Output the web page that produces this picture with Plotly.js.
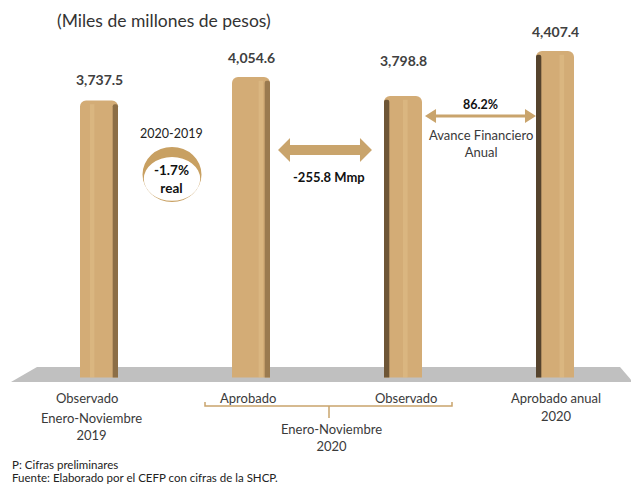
<!DOCTYPE html>
<html>
<head>
<meta charset="utf-8">
<script src="https://cdn.plot.ly/plotly-3.0.1.min.js"></script>
<style>
  html, body { margin: 0; padding: 0; background: #fff; }
  #chart { width: 631px; height: 485px; }
</style>
</head>
<body>
<div id="chart"></div>
<script>
// gasto, miles de millones de pesos
const categorias = ["Observado", "Aprobado", "Observado", "Aprobado anual"];
const valores = [3737.5, 4054.6, 3798.8, 4407.4];
const subtitulos = ["Enero-Noviembre<br>2019", "", "", "2020"];
const variacionReal = "-1.7%";
const diferencia = "-255.8 Mmp";
const avance = "86.2%";

const W = 631, H = 485;
// pixel -> paper helpers for the decorations
const px = x => x / W;
const py = y => 1 - y / H;
const path = pts => pts.map((p, i) => (i ? "L" : "M") + px(p[0]).toFixed(4) + "," + py(p[1]).toFixed(4)).join(" ") + " Z";

const tan = "#D3AC76";
const arrowTan = "#C9A46C";
const xs = categorias.map((c, i) => i);

const barW = 0.25, edgeW = 0.035;
const shadowColors = ["#8C6E46", "#9A7A4F", "#6E5636", "#55432D"];
const shadowOffsets = [barW / 2 - edgeW, barW / 2 - edgeW, -barW / 2, -barW / 2];

const data = [
  {
    x: xs, y: valores, type: "bar", width: barW,
    marker: { color: tan, cornerradius: 6 },
    hoverinfo: "skip"
  },
  {
    x: xs, y: valores.map(v => v - 50), type: "bar",
    width: edgeW, offset: shadowOffsets,
    marker: { color: shadowColors, cornerradius: 3 },
    hoverinfo: "skip"
  },
  {
    x: xs, y: valores.map(v => v - 50), type: "bar",
    width: 0.03, offset: [-0.06, 0.05, 0.0, 0.03],
    marker: { color: "rgba(232,200,150,0.35)" },
    hoverinfo: "skip"
  }
];

const font = "Lato, 'DejaVu Sans', sans-serif";
const txt = "#3a3a3a";

const annotations = [];
// value labels above bars
const lift = [11, 9, 25, 9];
valores.forEach((v, i) => {
  annotations.push({
    x: i, y: v, xref: "x", yref: "y", xanchor: "center", yanchor: "bottom", yshift: lift[i],
    text: "<b>" + v.toLocaleString("en-US", { minimumFractionDigits: 1 }) + "</b>",
    showarrow: false, font: { family: font, size: 14, color: "#404040" }
  });
});
// category labels
const labelX = [87, 248, 406, 556];
categorias.forEach((c, i) => {
  annotations.push({
    x: px(labelX[i]), y: py(398), text: c, font: { family: font, size: 13, color: txt }
  });
});
annotations.push(
  { x: px(91), y: py(426), text: subtitulos[0], font: { family: font, size: 13, color: txt } },
  { x: px(556), y: py(416), text: subtitulos[3], font: { family: font, size: 13, color: txt } },
  { x: px(331), y: py(437), text: "Enero-Noviembre<br>2020", font: { family: font, size: 13, color: txt } },
  { x: px(164), y: py(21), text: "(Miles de millones de pesos)", font: { family: font, size: 17.5, color: "#333" } },
  { x: px(171), y: py(133), text: "2020-2019", font: { family: font, size: 12.5, color: "#222" } },
  { x: px(171), y: py(179), text: "<b>" + variacionReal + "<br>real</b>", font: { family: font, size: 13.5, color: "#111" } },
  { x: px(329), y: py(177), text: "<b>" + diferencia + "</b>", font: { family: font, size: 13, color: "#111" } },
  { x: px(480), y: py(104), text: "<b>" + avance + "</b>", font: { family: font, size: 12.5, color: "#111" } },
  { x: px(481), y: py(143), text: "Avance Financiero<br>Anual", font: { family: font, size: 13, color: txt } },
  { x: px(10), y: py(464), xanchor: "left", text: "P: Cifras preliminares", font: { family: font, size: 11.5, color: "#222" } },
  { x: px(10), y: py(477), xanchor: "left", text: "Fuente: Elaborado por el CEFP con cifras de la SHCP.", font: { family: font, size: 11.5, color: "#222" } }
);
annotations.forEach(a => {
  if (!a.xref) {
    a.xref = "paper"; a.yref = "paper"; a.showarrow = false;
    a.xanchor = a.xanchor || "center";
    a.yanchor = "middle";
  }
});

const shapes = [
  // floor
  { type: "path", xref: "paper", yref: "paper", layer: "below",
    path: path([[11, 382], [37, 367], [620, 367], [633, 382]]),
    fillcolor: "#C0C0C0", line: { width: 0 } },
  // circle with crescent on top
  { type: "circle", xref: "paper", yref: "paper",
    x0: px(142.5), x1: px(201.5), y0: py(202), y1: py(147),
    fillcolor: "#C8A062", line: { width: 0 } },
  { type: "circle", xref: "paper", yref: "paper",
    x0: px(143.8), x1: px(200.2), y0: py(200.8), y1: py(157),
    fillcolor: "#fff", line: { width: 0 } },
  // block double arrow
  { type: "path", xref: "paper", yref: "paper",
    path: path([[278, 150], [290, 138], [290, 145], [360, 145], [360, 138], [372, 150],
                [360, 162], [360, 155], [290, 155], [290, 162]]),
    fillcolor: arrowTan, line: { width: 0 } },
  // thin double arrow
  { type: "path", xref: "paper", yref: "paper",
    path: path([[425, 116], [436, 109], [436, 114.5], [525, 114.5], [525, 109], [536, 116],
                [525, 123], [525, 117.5], [436, 117.5], [436, 123]]),
    fillcolor: arrowTan, line: { width: 0 } },
  // bracket under the 2020 bars
  { type: "path", xref: "paper", yref: "paper",
    path: "M" + px(205) + "," + py(402) + " L" + px(205) + "," + py(406) + " L" + px(452) + "," + py(406) + " L" + px(452) + "," + py(402),
    line: { color: arrowTan, width: 1.5 } },
  { type: "line", xref: "paper", yref: "paper",
    x0: px(329), x1: px(329), y0: py(406), y1: py(418),
    line: { color: arrowTan, width: 1.5 } }
];

const layout = {
  width: W, height: H,
  margin: { l: 0, r: 0, t: 0, b: 0 },
  paper_bgcolor: "#fff", plot_bgcolor: "rgba(0,0,0,0)",
  barmode: "overlay",
  showlegend: false,
  xaxis: { range: [-99 / 152, (W - 99) / 152], visible: false, fixedrange: true },
  yaxis: { range: [-1453, 5095], visible: false, fixedrange: true },
  annotations: annotations,
  shapes: shapes
};

Plotly.newPlot("chart", data, layout, { displayModeBar: false, staticPlot: true });
</script>
</body>
</html>
